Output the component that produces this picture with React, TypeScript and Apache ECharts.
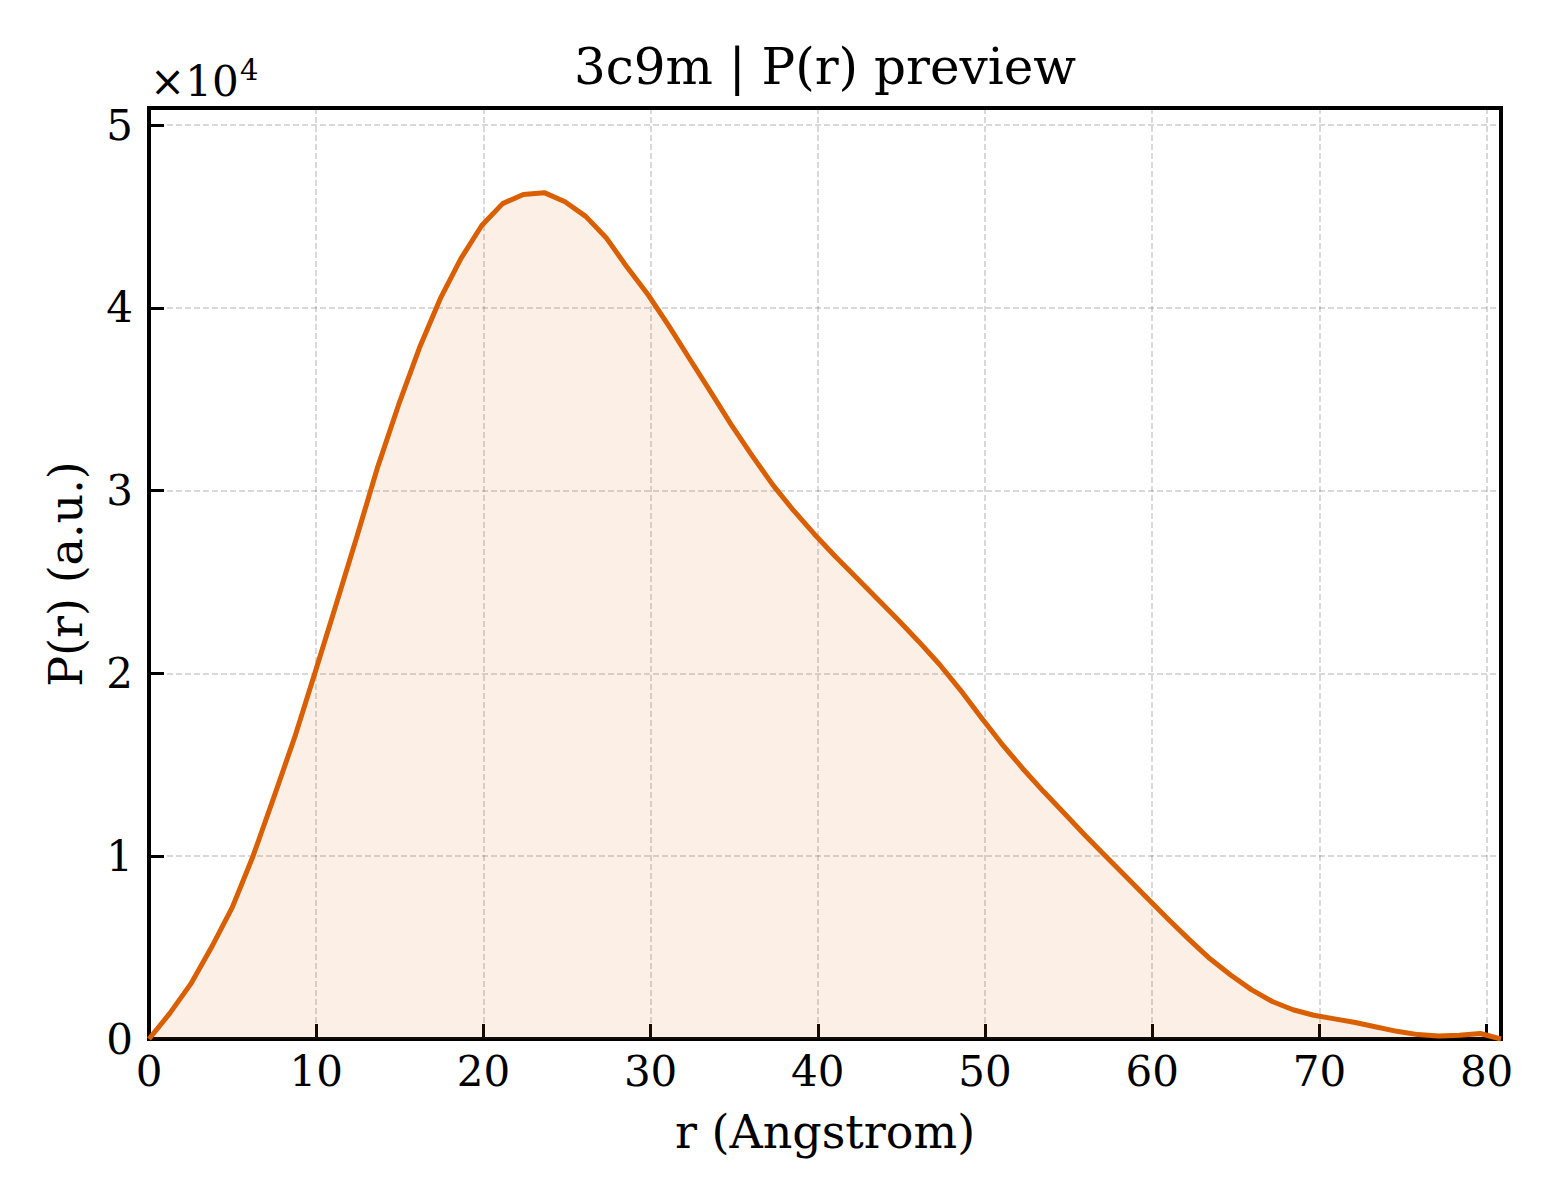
import { useEffect, useRef } from "react";
import * as echarts from "echarts";

// r in Angstrom
const rValues = [
  0, 1.24, 2.49, 3.73, 4.98, 6.22, 7.46, 8.71, 9.95, 11.2, 12.44, 13.68, 14.93, 16.17, 17.42, 18.66,
  19.9, 21.15, 22.39, 23.64, 24.88, 26.12, 27.37, 28.61, 29.86, 31.1, 32.34, 33.59, 34.83, 36.08,
  37.32, 38.56, 39.81, 41.05, 42.3, 43.54, 44.78, 46.03, 47.27, 48.52, 49.76, 51.0, 52.25, 53.49,
  54.74, 55.98, 57.22, 58.47, 59.71, 60.96, 62.2, 63.44, 64.69, 65.93, 67.18, 68.42, 69.66, 70.91,
  72.15, 73.4, 74.64, 75.88, 77.13, 78.37, 79.62, 80.86,
];

// P(r), arbitrary units
const prValues = [
  0, 1400, 3000, 5000, 7200, 10000, 13200, 16500, 20100, 23800, 27500, 31300, 34700, 37800, 40500,
  42700, 44500, 45700, 46200, 46300, 45800, 45000, 43800, 42200, 40700, 39000, 37200, 35400, 33600,
  31900, 30300, 28900, 27600, 26400, 25250, 24100, 22950, 21750, 20500, 19100, 17600, 16150, 14800,
  13550, 12350, 11150, 10000, 8850, 7700, 6550, 5450, 4400, 3500, 2700, 2050, 1600, 1300, 1100, 900,
  660, 420, 240, 160, 200, 300, 0,
];

const xTicks = [0, 10, 20, 30, 40, 50, 60, 70, 80];
const yTicks = [0, 10000, 20000, 30000, 40000, 50000];

const X_MAX = 80.86;
const Y_MAX = 50930;
const FONT = "DejaVu Serif";
const LINE_COLOR = "#d95f02";

const App = () => {
  const chartRef = useRef<HTMLDivElement>(null);

  useEffect(() => {
    if (!chartRef.current) return;
    document.body.style.margin = "0";

    const chart = echarts.init(chartRef.current, null, { renderer: "svg" });

    const gridLine = {
      show: true,
      lineStyle: { color: "rgba(0,0,0,0.15)", width: 2, type: [6, 3] as number[] },
    };

    const option: echarts.EChartsOption = {
      animation: false,
      backgroundColor: "#ffffff",
      grid: {
        left: 149,
        right: 59,
        top: 108,
        bottom: 161,
        show: true,
        borderColor: "#000",
        borderWidth: 4,
        backgroundColor: "transparent",
      },
      xAxis: {
        type: "value",
        min: 0,
        max: X_MAX,
        interval: 10,
        axisLine: { show: false },
        axisTick: { show: true, inside: true, length: 15, lineStyle: { color: "#000", width: 3 } },
        axisLabel: {
          color: "#000",
          fontFamily: FONT,
          fontSize: 42,
          margin: 11,
          showMaxLabel: false,
          formatter: (v: number) => (xTicks.includes(v) ? String(v) : ""),
        },
        splitLine: gridLine,
      },
      yAxis: {
        type: "value",
        min: 0,
        max: Y_MAX,
        interval: 10000,
        axisLine: { show: false },
        axisTick: { show: true, inside: true, length: 15, lineStyle: { color: "#000", width: 3 } },
        axisLabel: {
          color: "#000",
          fontFamily: FONT,
          fontSize: 42,
          margin: 16,
          showMaxLabel: false,
          formatter: (v: number) => (yTicks.includes(v) ? String(v / 10000) : ""),
        },
        splitLine: gridLine,
      },
      series: [
        {
          type: "line",
          data: rValues.map((r, i) => [r, prValues[i]]),
          showSymbol: false,
          smooth: false,
          lineStyle: { color: LINE_COLOR, width: 5, join: "round" },
          areaStyle: { color: "rgba(217,95,2,0.14)" },
          z: 3,
        },
      ],
      graphic: [
        {
          type: "text",
          x: 825,
          y: 67,
          style: {
            text: "3c9m | P(r) preview",
            font: `50px "${FONT}"`,
            fill: "#000",
            align: "center",
            verticalAlign: "middle",
          },
        },
        {
          type: "text",
          x: 150,
          y: 81,
          style: {
            text: "×10",
            font: `42px "${FONT}"`,
            fill: "#000",
            align: "left",
            verticalAlign: "middle",
          },
        },
        {
          type: "text",
          x: 240,
          y: 70,
          style: {
            text: "4",
            font: `29px "${FONT}"`,
            fill: "#000",
            align: "left",
            verticalAlign: "middle",
          },
        },
        {
          type: "text",
          x: 825,
          y: 1132,
          style: {
            text: "r (Angstrom)",
            font: `46px "${FONT}"`,
            fill: "#000",
            align: "center",
            verticalAlign: "middle",
          },
        },
        {
          type: "text",
          x: 66,
          y: 574,
          rotation: Math.PI / 2,
          style: {
            text: "P(r) (a.u.)",
            font: `46px "${FONT}"`,
            fill: "#000",
            align: "center",
            verticalAlign: "middle",
          },
        },
      ],
    };

    chart.setOption(option);

    return () => {
      chart.dispose();
    };
  }, []);

  return <div ref={chartRef} style={{ width: "1560px", height: "1200px" }} />;
};

export default App;
